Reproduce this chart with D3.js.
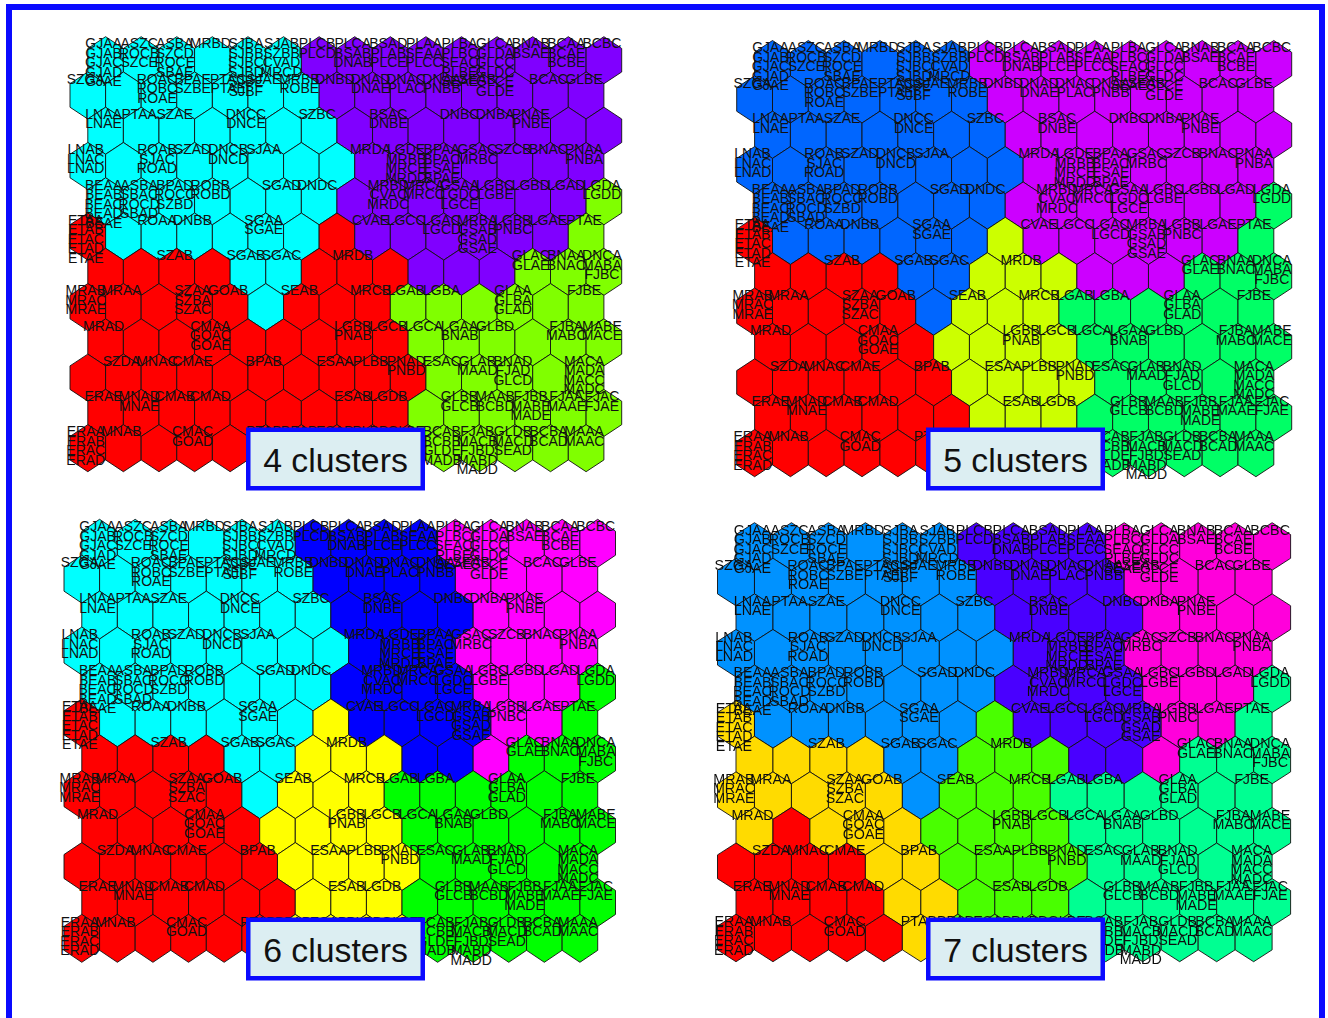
<!DOCTYPE html>
<html>
<head>
<meta charset="utf-8">
<script src="https://cdn.jsdelivr.net/npm/d3@7"></script>
<style>
html,body{margin:0;padding:0;background:#fff;overflow:hidden}
svg{display:block}
text{font-family:"Liberation Sans",Arial,Helvetica,sans-serif}
</style>
</head>
<body>
<svg id="chart" width="1328" height="1018"></svg>
<script>
// Codes found in each map unit, one array per row (top to bottom), 15 units per row.
const row00 = ["GJAA GJAB GJAC GJAD GJAE","ASZC ROCB SZCE","ASBA SZCD ROCE SBAE","MRBD","SJBA SJBB SJBC SJBD SJBE SJBF","SJAB SZBB CVAD MRCD","PLCB PLCD","PLCA BSAB DNAB","BSAD PLAB PLCE","PLAA SEAA PLCC","PLBA PLBC SEAC PLBE SEAE","GLCA GLDA GLCC GLDC GLCE GLDE","BNAB BSAE","BCAA BCAE BCBE","BCBC"];
const row01 = ["SZGA","","ROAC ROBC ROAE","BPAE SZBE","PTAC PTAE","SJAE","MRBB ROBE","DNBD","DNAD DNAE","DNAC PLAC","DNAA PNBB","SEAB","","BCAC","GLBE"];
const row02 = ["LNAA LNAE","PTAA","SZAE","","DNCC DNCE","","SZBC","","BSAC DNBE","","DNBC","DNBA","PNAE PNBE","",""];
const row03 = ["LNAB LNAC LNAD","","ROAB SJAC ROAD","SZAD","DNCB DNCD","SJAA","","","MRDA","LGDE MRBB MRCE MRDD","BPAA BPAC ESAE BPAE","GSAC MRBC","SZCB","BNAC","PNAA PNBA"];
const row04 = ["BEAA BEAB BEAC BEAD BEAE","ASBA SBAC ROCD SBAD","BPAD ROCC SZBD","ROBB ROBD","","SGAD","DNDC","","MRBD CVAC MRDC","MRCA MRCC","GSAA LGDC LGCE","LGBC LGBE","LGBD","LGAD","LGDA LGDD"];
const row05 = ["ETAA ETAB ETAC ETAD ETAE","","ROAA","DNBB","","SGAA SGAE","","","CVAE","LGCC","LGAC LGCD","MRBA GSAB GSAD GSAE","LGBB PNBC","LGAE","PTAE"];
const row06 = ["","","SZAB","","SGAB","SGAC","","MRDB","","","","","GLAC GLAE","BNAA BNAC","DNCA MABA FJBC"];
const row07 = ["MRAB MRAC MRAE","MRAA","","SZAA SZBA SZAC","GOAB","","SEAB","","MRCB","LGAB","LGBA","","GLAA GLBA GLAD","","FJBE"];
const row08 = ["MRAD","","","CMAA GOAC GOAE","","","","LGBB PNAB","LGCB","LGCA","LGAA BNAB","GLBD","","FJBA MABC","MABE MACE"];
const row09 = ["","SZDA","MNAC","CMAE","","BPAB","","ESAA","PLBB","PNAD PNBD","ESAC","GLAB MAAD","BNAD FJAD GLCD","","MACA MADA MACC MADC"];
const row10 = ["ERAE","MNAD MNAE","CMAB","CMAD","","","","ESAB","LGDB","","GLBB GLCB","MAAB BCBD","FJBB MABE MADE","FJAA MAAE","FJAC FJAE"];
const row11 = ["ERAA ERAB ERAC ERAD","MNAB","","CMAC GOAD","","PTAB","BPAD","ESAD","PLBD","GLBE","BCAB BCBB GLDE MADB","FJAB MACB FJBD MABD MADD","GLDB MACD SEAD","BCBA BCAD","MAAA MAAC"];
const unitLabels = [row00,row01,row02,row03,row04,row05,row06,row07,row08,row09,row10,row11];

// Cluster membership per unit, one string per row
const clusters4 = ["CCCCCCPPPPPPPPP","CCCCCCCPPPPPPPP","CCCCCCCPPPPPPPP","CCCCCCCCPPPPPPP","CCCCCCCPPPPPPPG","RCCCCCCRPPPPPPG","RRRRCCRRRPPPGGG","RRRRRCRRRGGGGGG","RRRRRRRRRGGGGGG","RRRRRRRRRRGGGGG","RRRRRRRRRGGGGGG","RRRRRRRRRRGGGGG"];
const clusters5 = ["BBBBBBPPPPPPPPP","BBBBBBBPPPPPPPP","BBBBBBBPPPPPPPP","BBBBBBBBPPPPPPP","BBBBBBBPPPPPPPG","RBBBBBBYPPPPPPG","RRRRBBYYYPPPGGG","RRRRRBYYYGGGGGG","RRRRRYYYYGGGGGG","RRRRRRYYYYGGGGG","RRRRRRYYYGGGGGG","RRRRRRYYYYGGGGG"];
const clusters6 = ["CCCCCCBBBBMMMMM","CCCCCCCBBBBMMMM","CCCCCCCBBBBMMMM","CCCCCCCCBBBMMMM","CCCCCCCBBBBMMMG","RCCCCCCYBBBBMMG","RRRRCCYYYBBMGGG","RRRRRCYYYGGGGGG","RRRRRYYYYGGGGGG","RRRRRRYYYYGGGGG","RRRRRRYYYGGGGGG","RRRRRRYYYYGGGGG"];
const clusters7 = ["BBBBBBIIIIPPPPP","BBBBBBBIIIIPPPP","BBBBBBBIIIIPPPP","BBBBBBBBIIIPPPP","BBBBBBBIIIIPPPM","OBBBBBBLIIIIPPM","OOOOBBLLLIIPMMM","OOOOOBLLLMMMMMM","OROOOLLLLMMMMMM","RRRROOLLLLMMMMM","RRRROOLLLMMMMMM","RRRRROLLLLMMMMM"];

const palette4 = {R:"#FF0000",G:"#80FF00",C:"#00FFFF",P:"#8000FF"};
const palette5 = {R:"#FF0000",Y:"#CCFF00",G:"#00FF66",B:"#0066FF",P:"#CC00FF"};
const palette6 = {R:"#FF0000",Y:"#FFFF00",G:"#00FF00",C:"#00FFFF",B:"#0000FF",M:"#FF00FF"};
const palette7 = {R:"#FF0000",O:"#FFDB00",L:"#49FF00",M:"#00FF92",B:"#0092FF",I:"#4900FF",P:"#FF00DB"};

const panelTitles = ["4 clusters","5 clusters","6 clusters","7 clusters"];

const panels = [
  {title:panelTitles[0],map:clusters4,pal:palette4,x:[70,621.7],y:[36.7,471.7],box:[246,427.5],font:14},
  {title:panelTitles[1],map:clusters5,pal:palette5,x:[736.7,1291.7],y:[40.5,476.7],box:[926,427.5],font:14},
  {title:panelTitles[2],map:clusters6,pal:palette6,x:[64,615.5],y:[519.3,962.3],box:[246,917.5],font:14},
  {title:panelTitles[3],map:clusters7,pal:palette7,x:[717.5,1290.6],y:[522.7,961.7],box:[926,917.5],font:14.3,soft:true}
];

const svg = d3.select("#chart");
const BLUE = "#0a0aff";

svg.append("defs").append("filter").attr("id","soft")
  .attr("x","-5%").attr("y","-5%").attr("width","110%").attr("height","110%")
  .append("feGaussianBlur").attr("stdDeviation",0.4);

// outer frame
svg.append("rect").attr("x",9).attr("y",7).attr("width",1313).attr("height",1030)
  .attr("fill","#fff").attr("stroke",BLUE).attr("stroke-width",6);

const hexLine = d3.line();

panels.forEach(p=>{
  const xs = d3.scaleLinear().domain([0,15.5]).range(p.x);
  const ys = d3.scaleLinear().domain([0,11+4/3]).range(p.y);
  const cells = [];
  p.map.forEach((rowStr,r)=>{
    rowStr.split("").forEach((c,k)=>{
      cells.push({r,k,c,cx:k+0.5+(r%2===0?0.5:0),cy:r+2/3,labels:unitLabels[r][k]?unitLabels[r][k].split(" "):[]});
    });
  });
  const g = svg.append("g");
  if(p.soft) g.attr("filter","url(#soft)");
  g.selectAll("path").data(cells).join("path")
    .attr("d",d=>hexLine([
      [xs(d.cx),ys(d.cy-2/3)],[xs(d.cx+.5),ys(d.cy-1/3)],[xs(d.cx+.5),ys(d.cy+1/3)],
      [xs(d.cx),ys(d.cy+2/3)],[xs(d.cx-.5),ys(d.cy+1/3)],[xs(d.cx-.5),ys(d.cy-1/3)]
    ])+"Z")
    .attr("fill",d=>p.pal[d.c])
    .attr("stroke","#111").attr("stroke-width",0.9);
  const flat = cells.flatMap(d=>d.labels.map((t,i)=>({t,i,d})));
  g.selectAll("text").data(flat).join("text")
    .attr("x",l=>xs(l.d.cx)-2)
    .attr("y",l=>ys(l.d.cy)-16.8+l.i*9.5)
    .attr("dy","0.36em")
    .attr("text-anchor","middle")
    .attr("font-size",p.font)
    .attr("fill","#111")
    .text(l=>l.t);
});

// cluster-count boxes, on top of the maps
panels.forEach(p=>{
  const g = svg.append("g").attr("transform",`translate(${p.box[0]},${p.box[1]})`);
  g.append("rect").attr("x",2.25).attr("y",2.25).attr("width",174.5).attr("height",58.5)
    .attr("fill","#DCEEF2").attr("stroke",BLUE).attr("stroke-width",4.5);
  g.append("text").attr("x",89.5).attr("y",44.5).attr("text-anchor","middle")
    .attr("font-size",33.8).attr("fill","#111").text(p.title);
});
</script>
</body>
</html>
